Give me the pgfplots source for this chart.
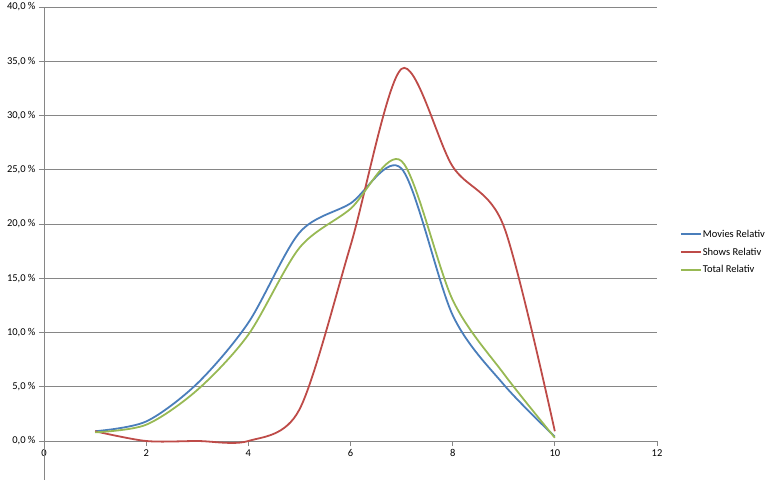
\documentclass[border=0pt]{standalone}
\usepackage{pgfplots}
\pgfplotsset{compat=1.18}
\usepackage{fontspec}
\setmainfont{Carlito}
\definecolor{cblue}{HTML}{4A7EBB}
\definecolor{cred}{HTML}{BE4B48}
\definecolor{cgreen}{HTML}{98B954}
\definecolor{gridgray}{HTML}{868686}
\begin{document}
\begin{tikzpicture}
\useasboundingbox (-44pt,-39pt) rectangle (727pt,441pt);
\begin{axis}[
  at={(0pt,0pt)}, anchor=south west,
  scale only axis, width=613pt, height=434pt,
  xmin=0, xmax=12, ymin=0, ymax=40,
  xtick={0,2,...,12}, ytick={0,5,...,40},
  yticklabels={{0,0 \%},{5,0 \%},{10,0 \%},{15,0 \%},{20,0 \%},{25,0 \%},{30,0 \%},{35,0 \%},{40,0 \%}},
  axis lines=left,
  axis line style={-, draw=gridgray, line width=0.9pt},
  ymajorgrids, grid style={draw=gridgray, line width=0.9pt},
  major tick length=5pt, tick align=outside,
  tick style={draw=gridgray, line width=0.9pt},
  ticklabel style={font=\fontsize{10.5}{12}\selectfont, text=black},
  /pgf/number format/assume math mode=true,
  clip=false,
  legend style={at={(axis description cs:1.037,0.435)}, anchor=west, draw=none, fill=none,
    font=\fontsize{10.5}{12}\selectfont, row sep=7pt, inner sep=0pt,
    nodes={inner sep=1pt}},
  legend cell align=left,
  legend image code/.code={\draw[#1, line width=2pt] (0pt,0pt) -- (20pt,0pt);},
]
\addplot[cblue, line width=1.8pt, smooth, tension=0.5] coordinates {
(1,0.9) (2,1.8) (3,5.3) (4,10.9) (5,19.2) (6,21.9) (7,25.1) (8,11.6) (9,5.2) (10,0.4)};
\addlegendentry{Movies Relativ}
\addplot[cred, line width=1.8pt, smooth, tension=0.5] coordinates {
(1,0.9) (2,0.0) (3,0.0) (4,0.0) (5,2.9) (6,18.0) (7,34.3) (8,25.3) (9,19.8) (10,0.9)};
\addlegendentry{Shows Relativ}
\addplot[cgreen, line width=1.8pt, smooth, tension=0.5] coordinates {
(1,0.8) (2,1.5) (3,4.7) (4,9.8) (5,17.8) (6,21.4) (7,25.8) (8,13.0) (9,6.2) (10,0.3)};
\addlegendentry{Total Relativ}
\draw[gridgray, line width=0.9pt] (axis cs:0,0) -- ++(0pt,-39pt);
\end{axis}
\end{tikzpicture}
\end{document}
